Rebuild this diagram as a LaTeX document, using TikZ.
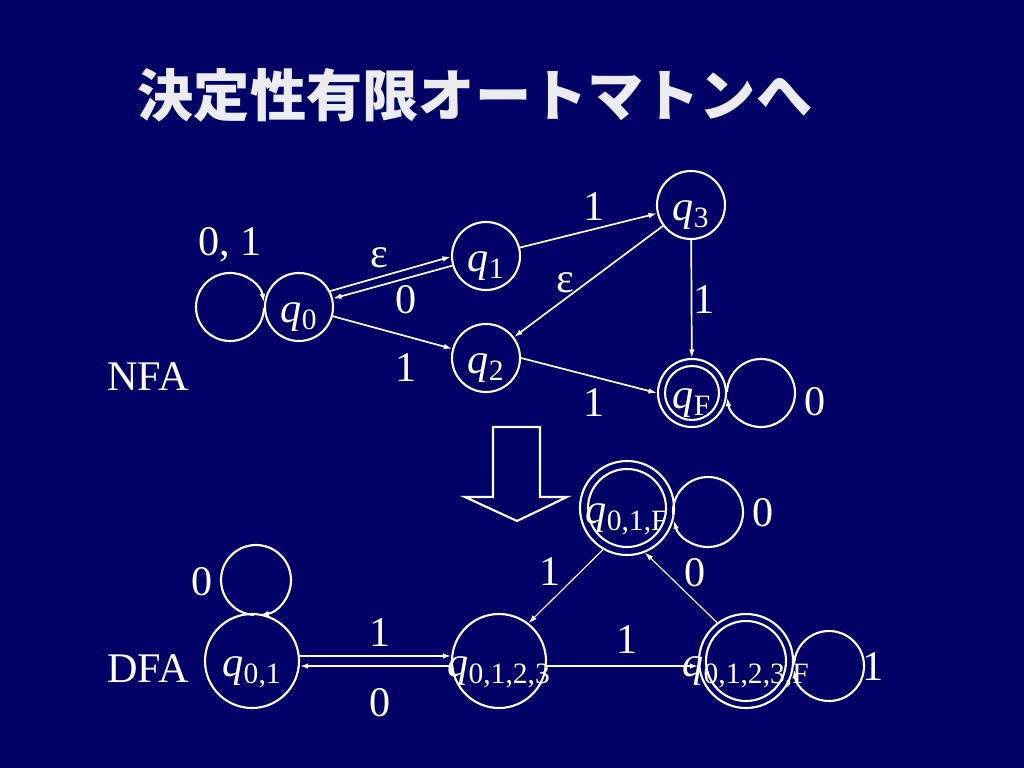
\documentclass[tikz,border=0pt]{standalone}
\usepackage{fontspec}
\setmainfont{Liberation Serif}
\newfontfamily\jpfont{Noto Sans CJK JP}
\usetikzlibrary{arrows.meta}

\definecolor{slide}{RGB}{0,0,102}
\definecolor{titlegray}{RGB}{236,236,240}

% state label: q with subscript, taking no room in the circle
\newcommand{\stlab}[1]{\makebox[0pt]{\raisebox{-0.36em}[0pt][0pt]{\textit{q}\textsubscript{#1}}}}

\tikzset{
  nstate/.style={circle, draw=white, line width=1.5pt, minimum size=1.7cm, inner sep=0pt,
    text=white, font=\fontsize{30}{36}\selectfont},
  dstate/.style={nstate, minimum size=2.35cm},
  trans/.style={draw=white, line width=1.2pt, -{Latex[length=6pt,width=4pt]}},
  thintrans/.style={trans, line width=0.8pt},
  loopc/.style={draw=white, line width=1.5pt, -{Latex[length=6pt,width=4pt]}},
  lbl/.style={text=white, inner sep=0pt, font=\fontsize{30}{36}\selectfont}
}

\begin{document}
\begin{tikzpicture}[x=0.025cm, y=0.025cm]
        % Background
        \fill[slide] (0,0) rectangle (1024,-768);

        % Title
        \node[text=titlegray, font=\jpfont\bfseries\fontsize{40}{48}\selectfont] (title) at (475,-95) {決定性有限オートマトンへ};

        % NFA states
        \node[nstate] (q0) at (299,-307) {\stlab{0}};
        \node[nstate] (q1) at (486,-256) {\stlab{1}};
        \node[nstate] (q2) at (486,-358) {\stlab{2}};
        \node[nstate] (q3) at (691,-205) {\stlab{3}};
        \node[nstate] (qF) at (692,-393) {\stlab{F}};

        % DFA states
        \node[dstate] (q01) at (252,-661) {\stlab{0,1}};
        \node[dstate] (q0123) at (499,-661) {\stlab{0,1,2,3}};
        \node[dstate] (q01F) at (627,-508) {\stlab{0,1,F}};
        \node[dstate] (q0123F) at (746,-661) {\stlab{0,1,2,3,F}};

        % Accepting states get an inner circle
        \foreach \n/\r in {qF/27, q01F/39, q0123F/40}
            \draw[white, line width=1.5pt] (\n) circle[radius=\r];

        % NFA transitions
        \draw[trans] (q0.27) -- (q1.181);
        \draw[trans] (q1.196) -- (q0.14);
        \draw[trans] (q0) -- (q2);
        \draw[trans] (q1) -- (q3);
        \draw[trans] (q3) -- (q2);
        \draw[trans] (q3) -- (qF);
        \draw[trans] (q2.east) -- (qF.west);

        % DFA transitions
        \draw[trans] (q01.6) -- (q0123.174);
        \draw[trans] (q0123.186) -- (q01.354);
        \draw[trans] (q0123.354) -- (q0123F.186);
        \draw[thintrans] (q01F.240) -- (q0123.52);
        \draw[thintrans] (q0123F.127) -- (q01F.292);

        % Self loops
        \coordinate (l0) at (230,-307);
        \coordinate (lF) at (761,-393);
        \coordinate (l01) at (256,-580);
        \coordinate (l01F) at (708,-512);
        \coordinate (l0123F) at (829,-666);
        \draw[loopc] (l0) ++(358:34) arc[start angle=358, end angle=8, radius=34];
        \draw[loopc] (lF) ++(538:34) arc[start angle=538, end angle=188, radius=34];
        \draw[loopc] (l01) ++(627:35) arc[start angle=627, end angle=277, radius=35];
        \draw[loopc] (l01F) ++(544:35) arc[start angle=544, end angle=194, radius=35];
        \draw[loopc] (l0123F) ++(536:35) arc[start angle=536, end angle=186, radius=35];

        % Big arrow NFA => DFA
        \draw[white, line width=1.5pt] (493,-427) -- (540,-427) -- (540,-497) -- (567,-497)
            -- (517,-521) -- (465,-497) -- (493,-497) -- cycle;

        % Labels
        \node[lbl, anchor=base] (t01) at (230,-255) {0, 1};
        \node[lbl] (teps1) at (379,-258) {ε};
        \node[lbl] (t10) at (406,-300) {0};
        \node[lbl] (t02) at (406,-368) {1};
        \node[lbl] (t13) at (594,-207) {1};
        \node[lbl] (teps2) at (565,-283) {ε};
        \node[lbl] (t3F) at (704,-300) {1};
        \node[lbl] (t2F) at (594,-403) {1};
        \node[lbl] (tFF) at (815,-402) {0};
        \node[lbl] (nfa) at (148,-377) {NFA};
        \node[lbl] (dfa) at (148,-669) {DFA};

        \node[lbl] (t0101) at (202,-582) {0};
        \node[lbl] (t01a) at (380,-633) {1};
        \node[lbl] (t01b) at (380,-703) {0};
        \node[lbl] (t0123a) at (627,-640) {1};
        \node[lbl] (t01Fa) at (550,-572) {1};
        \node[lbl] (t01Fb) at (695,-573) {0};
        \node[lbl] (t01F) at (763,-513) {0};
        \node[lbl] (t0123F) at (873,-667) {1};
\end{tikzpicture}
\end{document}
